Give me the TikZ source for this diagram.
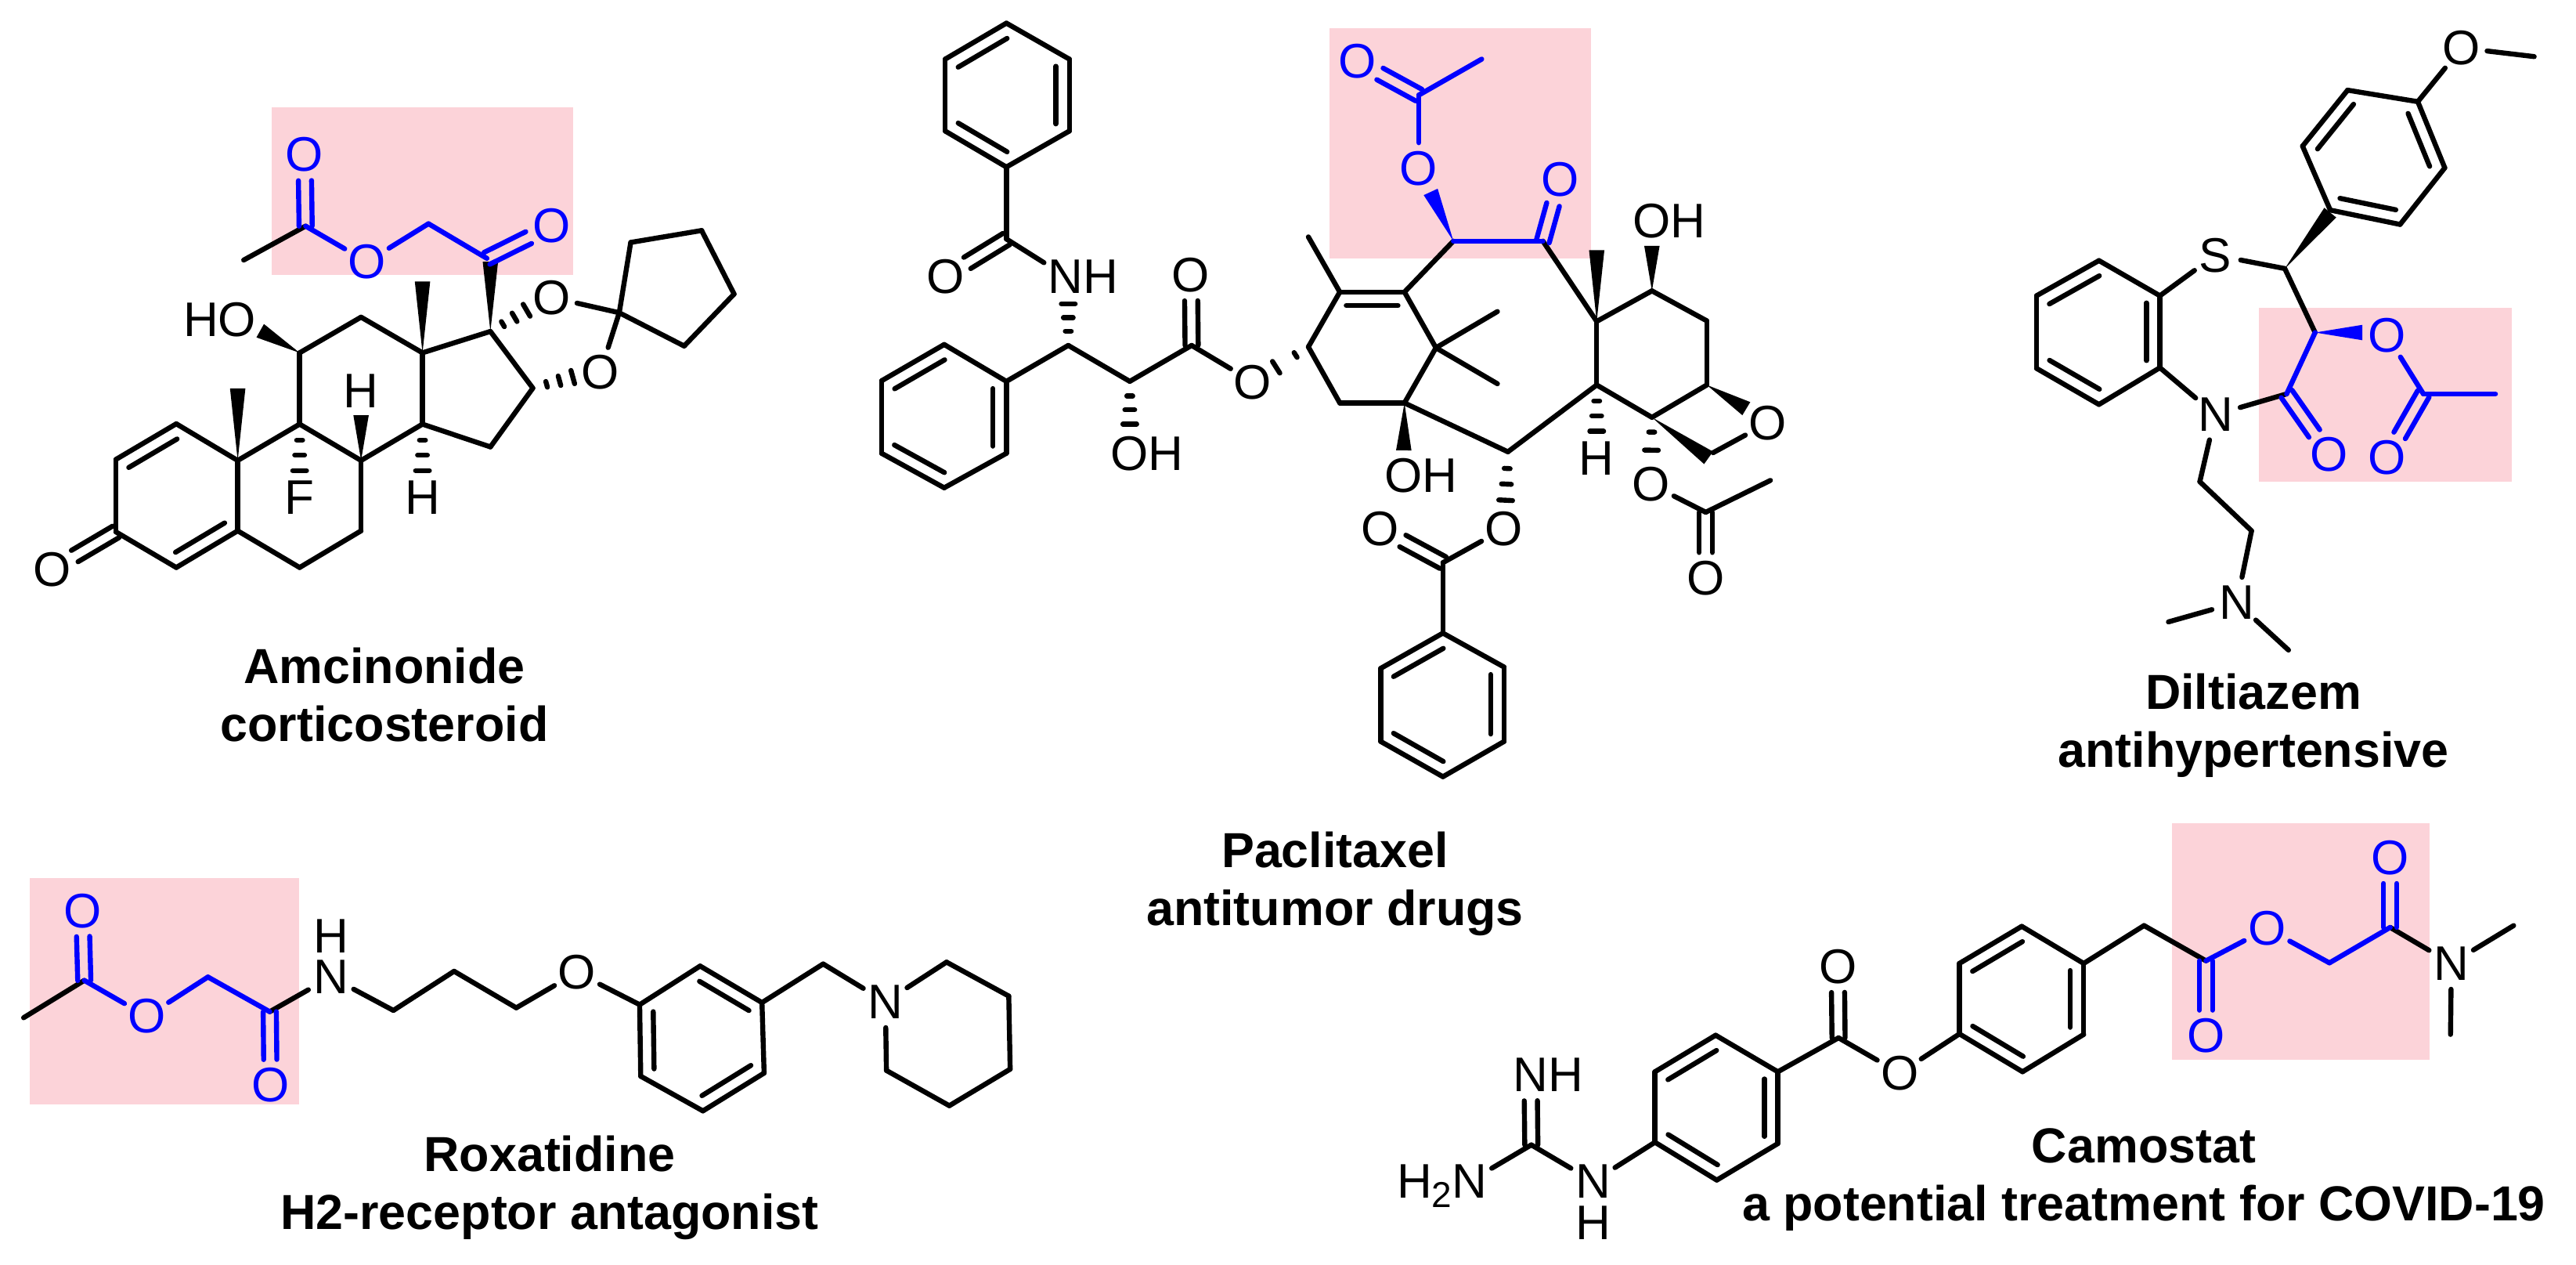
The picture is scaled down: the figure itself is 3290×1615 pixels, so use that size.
\documentclass[tikz,border=0pt]{standalone}
\usepackage{fontspec}
\setmainfont{Liberation Sans}
\usetikzlibrary{calc}
\definecolor{pinkbg}{RGB}{252,211,217}
\definecolor{chemblue}{RGB}{0,0,255}
\newcommand\pts[1]{\foreach \n/\x/\y in {#1}{\coordinate (\n) at (\x,\y);}}
\newcommand\bonds[2][black]{\foreach \u/\v in {#2}{\draw[bond,#1] (\u) -- (\v);}}
\newcommand\innerbond[3][black]{\draw[bond,#1] ($(#2)!0.1!(#3)!4.3pt!-90:(#3)$) -- ($(#3)!0.1!(#2)!4.3pt!90:(#2)$);}
\newcommand\dbond[3][black]{\draw[bond,#1,shorten >=8.25pt] ($(#2)!2.1pt!90:(#3)$) -- ($(#3)!2.1pt!-90:(#2)$);\draw[bond,#1,shorten >=8.25pt] ($(#2)!2.1pt!-90:(#3)$) -- ($(#3)!2.1pt!90:(#2)$);}
\newcommand\wedgebond[3][black]{\fill[#1] (#2) -- ($(#3)!2.45pt!90:(#2)$) -- ($(#3)!2.45pt!-90:(#2)$) -- cycle;}
\newcommand\hashbond[3][.32/.94pt,.62/1.56pt,.93/2.2pt]{\foreach \f/\h in {#1}{\draw[hashline] ($(#2)!\f!(#3)!\h!90:(#3)$) -- ($(#2)!\f!(#3)!\h!-90:(#3)$);}}
\newcommand\subtwo{\raisebox{-3pt}[0pt][0pt]{\fontsize{11.5}{12}\selectfont 2}}
\begin{document}
\begin{tikzpicture}[x=.25pt,y=-.25pt,
  bond/.style={line width=1.6pt,line cap=round,line join=round},
  hashline/.style={line width=1.6pt,line cap=round},
  atom/.style={circle,minimum size=16.5pt,inner sep=0pt,outer sep=0pt,font=\fontsize{15.5}{18}\selectfont},
  batom/.style={atom,text=chemblue},
  plain/.style={inner sep=0pt,outer sep=0pt,font=\fontsize{15.5}{18}\selectfont},
  title/.style={align=center,inner sep=0pt,font=\fontsize{15.7}{18.5}\selectfont\bfseries},
  patch/.style={fill=pinkbg,draw=none}]
\useasboundingbox (0,0) rectangle (3290,1615);
\fill[white] (0,0) rectangle (3290,1615);
% highlight patches
\fill[patch] (347,137) rectangle (732,351);
\fill[patch] (1698,36) rectangle (2032,330);
\fill[patch] (2885,393) rectangle (3208,615);
\fill[patch] (38,1121) rectangle (382,1410);
\fill[patch] (2774,1051) rectangle (3103,1353);

% ---------- Amcinonide
\begin{scope}[shift={(0,100)},xscale=0.6378,yscale=0.4337]
\pts{ac3/232/1335,ac2/232/1122,ac1/353/1017,ac10/476/1125,ac5/476/1332,ac4/353/1440,ac6/600/1440,ac7/723/1332,ac8/723/1125,ac9/600/1018,ac11/600/808,ac12/723/703,ac13/846/808,ac14/846/1018,ac17/982/745,ac16/1067/912,ac15/982/1085,aspiro/1240/690,ar1/1263/483,ar2/1405/448,ar3/1470/635,ar4/1370/788,ac20/975/530,ach/858/428,aac/612/435,ame/488/535,amw1/476/913,amw2/846/598,ahw/723/992,aow/521/743,aw20/982/540,ahs1/1060/678,ahs2/1153/877,ahs3/600/1165,ahs4/846/1165}
\node[atom] (aOk) at (105,1445) {O};
\node[atom] (aOH) at (475,710) {\llap{H}O};
\node[plain] (aH1) at (723,920) {H};
\node[atom] (aF) at (600,1235) {F};
\node[plain] (aH2) at (846,1235) {H};
\node[atom] (aO17) at (1105,645) {O};
\node[atom] (aO16) at (1202,865) {O};
\node[batom] (aOe) at (735,540) {O};
\node[batom] (aOa) at (610,225) {O};
\node[batom] (aOc) at (1105,435) {O};
\end{scope}
\bonds{ac3/ac2,ac2/ac1,ac1/ac10,ac10/ac5,ac5/ac4,ac4/ac3,ac5/ac6,ac6/ac7,ac7/ac8,ac8/ac9,ac9/ac10,ac9/ac11,ac11/ac12,ac12/ac13,ac13/ac14,ac14/ac8,ac13/ac17,ac17/ac16,ac16/ac15,ac15/ac14,aspiro/aO17,aspiro/aO16,aspiro/ar1,ar1/ar2,ar2/ar3,ar3/ar4,ar4/aspiro,aac/ame}
\innerbond{ac2}{ac1}\innerbond{ac5}{ac4}
\dbond{ac3}{aOk}
\wedgebond{ac10}{amw1}\wedgebond{ac13}{amw2}\wedgebond{ac8}{ahw}\wedgebond{ac11}{aow}\wedgebond{ac17}{aw20}
\hashbond{ac17}{ahs1}\hashbond{ac16}{ahs2}\hashbond{ac9}{ahs3}\hashbond{ac14}{ahs4}
\bonds[chemblue]{ac20/ach,ach/aOe,aOe/aac}
\dbond[chemblue]{aac}{aOa}\dbond[chemblue]{ac20}{aOc}

% ---------- Paclitaxel: side chain
\begin{scope}[shift={(1080,20)},xscale=0.4464,yscale=0.3827]
\pts{pa1/460/25,pa2/640/145,pa3/640/385,pa4/460/505,pa5/285/385,pa6/285/145,pk/460/745,pc3/637/1100,phe/637/951,pb1/282/1097,pb2/460/1220,pb3/460/1460,pb4/282/1575,pb5/103/1460,pb6/103/1218,pc2/813/1220,phf/813/1373,pc1/990/1100}
\node[atom] (pOk) at (285,870) {O};
\node[atom] (pN) at (630,870) {N\rlap{H}};
\node[atom] (pOH1) at (812,1460) {O\rlap{H}};
\node[atom] (pOk2) at (988,865) {O};
\node[atom] (pOe) at (1165,1222) {O};
\end{scope}
% ---------- Paclitaxel: core
\begin{scope}[shift={(1650,20)},xscale=0.4464,yscale=0.3827]
\pts{qc13/47/1105,qc12/137/922,qc11/322/922,qc15/412/1108,qc1/322/1292,qc14/137/1292,qm1/47/738,qm2/588/987,qm3/588/1228,qw1/320/1450,qc10/462/752,qw2/397/588,qc9/718/752,qac/363/265,qme/543/145,qc8/872/1020,qw3/872/782,qc7/1030/918,qw4/1030/768,qc6/1187/1018,qc5/1187/1232,qc4/1030/1340,qc3/872/1232,qw5/1300/1311,qw6/1192/1475,qch/1205/1458,qc2/618/1455,qh3/872/1398}
\node[atom] (qOH1) at (320,1535) {O\rlap{H}};
\node[batom] (qO10) at (363,510) {O};
\node[batom] (qOa) at (187,153) {O};
\node[batom] (qOk) at (767,547) {O};
\node[atom] (qOH2) at (1030,686) {O\rlap{H}};
\node[atom] (qOx) at (1362,1358) {O};
\node[plain] (qH) at (872,1478) {H};
\end{scope}
% ---------- Paclitaxel: lower groups
\begin{scope}[shift={(1700,500)},xscale=0.4464,yscale=0.3333]
\pts{rh/499/430,rk/320/655,ri/320/925,r2/495/1055,r3/495/1340,r4/320/1475,r5/142/1340,r6/142/1060,rac/1072/462,rme/1257/340}
\node[atom] (rO1) at (495,525) {O};
\node[atom] (rOk) at (140,525) {O};
\node[atom] (rO2) at (915,355) {O};
\node[atom] (rOk2) at (1072,715) {O};
\end{scope}
\bonds{pa1/pa2,pa2/pa3,pa3/pa4,pa4/pa5,pa5/pa6,pa6/pa1,pa4/pk,pk/pN,pb1/pb2,pb2/pb3,pb3/pb4,pb4/pb5,pb5/pb6,pb6/pb1,pb2/pc3,pc3/pc2,pc2/pc1,pc1/pOe}
\innerbond{pa6}{pa1}\innerbond{pa2}{pa3}\innerbond{pa4}{pa5}
\innerbond{pb2}{pb3}\innerbond{pb4}{pb5}\innerbond{pb6}{pb1}
\dbond{pk}{pOk}\dbond{pc1}{pOk2}
\hashbond{pc3}{phe}\hashbond{pc2}{phf}
\hashbond[.23/.9pt,.58/2.2pt]{qc13}{pOe}
\bonds{qc13/qc12,qc12/qc11,qc11/qc15,qc15/qc1,qc1/qc14,qc14/qc13,qc12/qm1,qc15/qm2,qc15/qm3,qc11/qc10,qc9/qc8,qc8/qc7,qc7/qc6,qc6/qc5,qc5/qc4,qc4/qc3,qc3/qc8,qc3/qc2,qc1/qc2,qch/qOx}
\innerbond{qc12}{qc11}
\wedgebond{qc1}{qw1}\wedgebond{qc8}{qw3}\wedgebond{qc7}{qw4}\wedgebond{qc5}{qw5}\wedgebond{qc4}{qw6}
\hashbond{qc3}{qh3}
\hashbond[.22/.94pt,.49/2.2pt]{qc4}{rO2}
\wedgebond[chemblue]{qc10}{qw2}
\bonds[chemblue]{qc10/qc9,qO10/qac,qac/qme}
\dbond[chemblue]{qac}{qOa}\dbond[chemblue]{qc9}{qOk}
\hashbond{qc2}{rh}
\bonds{rk/rO1,rk/ri,ri/r2,r2/r3,r3/r4,r4/r5,r5/r6,r6/ri,rO2/rac,rac/rme}
\innerbond{r2}{r3}\innerbond{r4}{r5}\innerbond{r6}{ri}
\dbond{rk}{rOk}\dbond{rac}{rOk2}

% ---------- Diltiazem
\begin{scope}[shift={(2550,0)},xscale=0.4719,yscale=0.4082]
\pts{d1/277/815,d2/442/925,d3/442/1150,d4/277/1265,d5/108/1152,d6/108/925,dc2/780/840,dw/903/665,di/903/657,dp2/828/457,dp3/950/282,dp4/1140/318,dp5/1213/525,dp6/1092/702,dme/1455/177,dc3/862/1040,dw2/990/1040,dc4/785/1232,dac/1155/1232,dam/1350/1232}
\node[atom] (dS) at (592,798) {S};
\node[atom] (dOm) at (1258,150) {O};
\node[atom] (dN) at (592,1297) {N};
\node[batom] (dOe) at (1056,1048) {O};
\node[batom] (dOk) at (900,1422) {O};
\node[batom] (dOa) at (1056,1432) {O};
\end{scope}
\begin{scope}[shift={(2550,500)},xscale=0.4719,yscale=0.3333]
\pts{dn1/550/345,dn2/690/533,dm1/465/882,dm2/790/990}
\node[atom] (dN2) at (650,808) {N};
\end{scope}
\bonds{d1/d2,d2/d3,d3/d4,d4/d5,d5/d6,d6/d1,d2/dS,dS/dc2,di/dp2,dp2/dp3,dp3/dp4,dp4/dp5,dp5/dp6,dp6/di,dp4/dOm,dOm/dme,dc2/dc3,d3/dN,dN/dc4,dN/dn1,dn1/dn2,dn2/dN2,dN2/dm1,dN2/dm2}
\innerbond{d2}{d3}\innerbond{d4}{d5}\innerbond{d6}{d1}
\innerbond{dp2}{dp3}\innerbond{dp4}{dp5}\innerbond{dp6}{di}
\wedgebond{dc2}{dw}
\wedgebond[chemblue]{dc3}{dw2}
\bonds[chemblue]{dc3/dc4,dOe/dac,dac/dam}
\dbond[chemblue]{dc4}{dOk}\dbond[chemblue]{dac}{dOa}

% ---------- Roxatidine
\begin{scope}[shift={(0,1090)},xscale=0.4785,yscale=0.3333]
\pts{xme/63/628,xac/225/485,xch/555/472,xk/720/605,xl1/1050/600,xl2/1212/450,xl3/1378/590}
\node[batom] (xOa) at (220,218) {O};
\node[batom] (xOe) at (392,623) {O};
\node[batom] (xOk) at (722,887) {O};
\node[atom] (xN) at (883,472) {N};
\node[plain] (xH) at (883,316) {H};
\end{scope}
\begin{scope}[shift={(700,1100)},xscale=0.4464,yscale=0.3333]
\pts{xa/262/548,xb/435/400,xc/612/540,xd/618/810,xe/443/955,xf/265/822,xbn/787/392,xp1/1140/385,xp2/1318/515,xp3/1322/795,xp4/1148/935,xp5/968/800}
\node[atom] (xO) at (82,425) {O};
\node[atom] (xN2) at (965,537) {N};
\end{scope}
\bonds{xme/xac,xk/xN,xN/xl1,xl1/xl2,xl2/xl3,xl3/xO,xO/xa,xa/xb,xb/xc,xc/xd,xd/xe,xe/xf,xf/xa,xc/xbn,xbn/xN2,xN2/xp1,xp1/xp2,xp2/xp3,xp3/xp4,xp4/xp5,xp5/xN2}
\innerbond{xb}{xc}\innerbond{xd}{xe}\innerbond{xf}{xa}
\bonds[chemblue]{xac/xOe,xOe/xch,xch/xk}
\dbond[chemblue]{xac}{xOa}\dbond[chemblue]{xk}{xOk}

% ---------- Camostat
\begin{scope}[shift={(1750,1150)},xscale=0.4785,yscale=0.3333]
\pts{eg/430/935,e1/760/925,e2/760/655,e3/922/515,e4/1088/655,e5/1088/930,e6/925/1070,ek/1250/525}
\node[atom] (eH2N) at (265,1075) {\llap{H\subtwo}N};
\node[atom] (eNH) at (428,667) {N\rlap{H}};
\node[atom] (eN) at (595,1075) {N};
\node[plain] (eH) at (595,1235) {H};
\node[atom] (eOk) at (1248,252) {O};
\node[atom] (eOe) at (1413,660) {O};
\end{scope}
\begin{scope}[shift={(2500,1000)},xscale=0.5038,yscale=0.3333]
\pts{s1/5/960,s2/5/690,s3/163/548,s4/320/690,s5/320/962,s6/165/1105,ech/473/545,ek2/630/680,ech2/943/688,ek3/1097/552,em1/1410/545,em2/1250/962}
\node[batom] (eOk2) at (630,968) {O};
\node[batom] (eOe2) at (785,557) {O};
\node[batom] (eOk3) at (1097,285) {O};
\node[atom] (eN2) at (1252,690) {N};
\end{scope}
\bonds{eH2N/eg,eg/eN,eN/e1,e1/e2,e2/e3,e3/e4,e4/e5,e5/e6,e6/e1,e4/ek,ek/eOe,eOe/s1,s1/s2,s2/s3,s3/s4,s4/s5,s5/s6,s6/s1,s4/ech,ech/ek2,ek3/eN2,eN2/em1,eN2/em2}
\innerbond{e2}{e3}\innerbond{e4}{e5}\innerbond{e6}{e1}
\innerbond{s2}{s3}\innerbond{s4}{s5}\innerbond{s6}{s1}
\dbond{eg}{eNH}\dbond{ek}{eOk}
\bonds[chemblue]{ek2/eOe2,eOe2/ech2,ech2/ek3}
\dbond[chemblue]{ek2}{eOk2}\dbond[chemblue]{ek3}{eOk3}

% ---------- captions
\node[title] (t1) at (491,887) {Amcinonide\\corticosteroid};
\node[title] (t2) at (1705,1128) {Paclitaxel\\antitumor drugs};
\node[title] (t3) at (2878,926) {Diltiazem\\antihypertensive};
\node[title] (t4) at (702,1516) {Roxatidine\\H2-receptor antagonist};
\node[title] (t5) at (2738,1506) {Camostat\\a potential treatment for COVID-19};
\end{tikzpicture}
\end{document}
